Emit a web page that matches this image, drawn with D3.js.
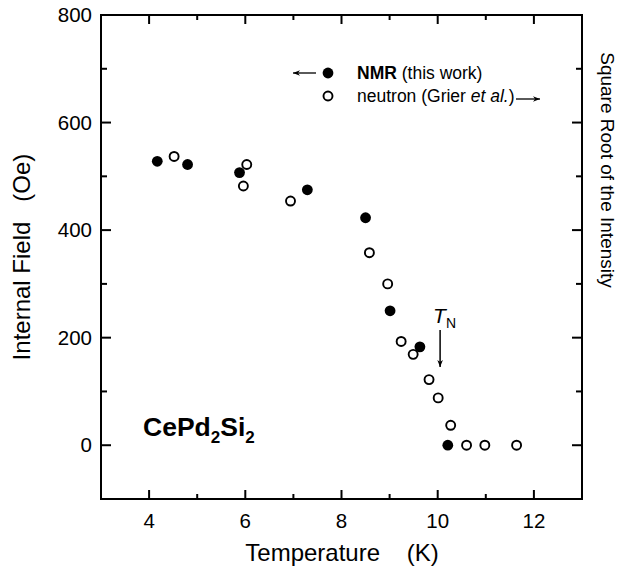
<!DOCTYPE html>
<html>
<head>
    <title>CePd2Si2 internal field vs temperature</title>
    <script src="https://d3js.org/d3.v7.min.js"></script>
    <style>
        body { margin: 0; background: #fff; }
        text { font-family: "Liberation Sans", Arial, sans-serif; fill: #000; }
        .tick-label { font-size: 20.5px; }
        .axis-title { font-size: 24px; white-space: pre; }
        .legend { font-size: 17.5px; }
    </style>
</head>
<body>
    <svg width="633" height="572"></svg>
    <script>
        // NMR (this work), filled circles
        var nmrT = [4.17, 4.80, 5.88, 7.29, 8.50, 9.01, 9.63, 10.21];
        var nmrField = [528, 522, 507, 475, 423, 250, 183, 0];
        // neutron (Grier et al.), open circles
        var neutronT = [4.52, 6.03, 5.96, 6.94, 8.58, 8.96, 9.24, 9.49, 9.82, 10.01, 10.27, 10.60, 10.98, 11.64];
        var neutronVal = [537, 522, 482, 454, 358, 300, 193, 169, 122, 88, 37, 0, 0, 0];

        var xMajor = [4, 6, 8, 10, 12];
        var xMinor = [5, 7, 9, 11];
        var yMajor = [0, 200, 400, 600, 800];
        var yMinor = [100, 300, 500, 700];
        var tN = 10.05;

        var svg = d3.select("svg");
        var pLeft = 101, pRight = 582, pTop = 15, pBottom = 499;

        var x = d3.scaleLinear().domain([3, 13]).range([pLeft, pRight]);
        var y = d3.scaleLinear().domain([-100, 800]).range([pBottom, pTop]);

        // frame
        svg.append("rect")
           .attr("x", pLeft).attr("y", pTop)
           .attr("width", pRight - pLeft).attr("height", pBottom - pTop)
           .attr("fill", "none").attr("stroke", "#000").attr("stroke-width", 2);

        function ticks(vals, len, horiz) {
            vals.forEach(function(v) {
                if (horiz) {
                    svg.append("line").attr("x1", x(v)).attr("x2", x(v))
                       .attr("y1", pBottom).attr("y2", pBottom - len)
                       .attr("stroke", "#000").attr("stroke-width", 2);
                    svg.append("line").attr("x1", x(v)).attr("x2", x(v))
                       .attr("y1", pTop).attr("y2", pTop + len)
                       .attr("stroke", "#000").attr("stroke-width", 2);
                } else {
                    svg.append("line").attr("x1", pLeft).attr("x2", pLeft + len)
                       .attr("y1", y(v)).attr("y2", y(v))
                       .attr("stroke", "#000").attr("stroke-width", 2);
                    svg.append("line").attr("x1", pRight).attr("x2", pRight - len)
                       .attr("y1", y(v)).attr("y2", y(v))
                       .attr("stroke", "#000").attr("stroke-width", 2);
                }
            });
        }
        ticks(xMajor, 9, true);
        ticks(xMinor, 5, true);
        ticks(yMajor, 10, false);
        ticks(yMinor, 6, false);

        svg.selectAll(".xlab").data(xMajor).enter().append("text")
           .attr("class", "tick-label")
           .attr("x", function(d) { return x(d); })
           .attr("y", 528)
           .attr("text-anchor", "middle")
           .text(function(d) { return d; });

        svg.selectAll(".ylab").data(yMajor).enter().append("text")
           .attr("class", "tick-label")
           .attr("x", pLeft - 9)
           .attr("y", function(d) { return y(d) + 7; })
           .attr("text-anchor", "end")
           .text(function(d) { return d; });

        // axis titles
        svg.append("text").attr("class", "axis-title")
           .attr("x", 342).attr("y", 561)
           .attr("text-anchor", "middle")
           .text("Temperature    (K)");

        svg.append("text").attr("class", "axis-title")
           .attr("transform", "translate(30,257) rotate(-90)")
           .attr("text-anchor", "middle")
           .text("Internal Field   (Oe)");

        svg.append("text").attr("class", "axis-title")
           .style("font-size", "19px")
           .attr("transform", "translate(601,170) rotate(90)")
           .attr("text-anchor", "middle")
           .text("Square Root of the Intensity");

        // data
        svg.selectAll(".nmr").data(nmrT).enter().append("circle")
           .attr("cx", function(d) { return x(d); })
           .attr("cy", function(d, i) { return y(nmrField[i]); })
           .attr("r", 5.4)
           .attr("fill", "#000");

        svg.selectAll(".neu").data(neutronT).enter().append("circle")
           .attr("cx", function(d) { return x(d); })
           .attr("cy", function(d, i) { return y(neutronVal[i]); })
           .attr("r", 4.5)
           .attr("fill", "#fff")
           .attr("stroke", "#000")
           .attr("stroke-width", 1.9);

        // legend
        var lx = 328, ly1 = 73, ly2 = 96;
        svg.append("circle").attr("cx", lx).attr("cy", ly1).attr("r", 5.4).attr("fill", "#000");
        svg.append("circle").attr("cx", lx).attr("cy", ly2).attr("r", 4.5)
           .attr("fill", "#fff").attr("stroke", "#000").attr("stroke-width", 1.9);

        var t1 = svg.append("text").attr("class", "legend").attr("x", 357).attr("y", ly1 + 6);
        t1.append("tspan").attr("font-weight", "bold").text("NMR");
        t1.append("tspan").text(" (this work)");

        var t2 = svg.append("text").attr("class", "legend").attr("x", 357).attr("y", ly2 + 6);
        t2.append("tspan").text("neutron (Grier ");
        t2.append("tspan").attr("font-style", "italic").text("et al.");
        t2.append("tspan").text(")");

        var defs = svg.append("defs");
        defs.append("marker").attr("id", "ah")
            .attr("viewBox", "0 0 10 10").attr("refX", 10).attr("refY", 5)
            .attr("markerWidth", 7).attr("markerHeight", 7)
            .attr("markerUnits", "userSpaceOnUse")
            .attr("orient", "auto")
            .append("path").attr("d", "M0,1 L10,5 L0,9 L3,5 Z").attr("fill", "#000");

        svg.append("line").attr("x1", 316).attr("y1", ly1).attr("x2", 293).attr("y2", ly1)
           .attr("stroke", "#000").attr("stroke-width", 1.3).attr("marker-end", "url(#ah)");
        svg.append("line").attr("x1", 516).attr("y1", ly2 + 3).attr("x2", 540).attr("y2", ly2 + 3)
           .attr("stroke", "#000").attr("stroke-width", 1.3).attr("marker-end", "url(#ah)");

        // T_N marker
        var tnx = x(tN);
        var tl = svg.append("text").attr("x", tnx - 7).attr("y", 323).style("font-size", "21px");
        tl.append("tspan").attr("font-style", "italic").text("T");
        tl.append("tspan").attr("dy", 5).style("font-size", "14px").text("N");

        svg.append("line").attr("x1", tnx).attr("y1", 330).attr("x2", tnx).attr("y2", 367)
           .attr("stroke", "#000").attr("stroke-width", 1.5).attr("marker-end", "url(#ah)");

        // compound label
        var cl = svg.append("text").attr("x", 143).attr("y", 436)
                    .attr("font-weight", "bold").style("font-size", "26.5px");
        cl.append("tspan").text("CePd");
        cl.append("tspan").attr("dy", 7).style("font-size", "17px").text("2");
        cl.append("tspan").attr("dy", -7).text("Si");
        cl.append("tspan").attr("dy", 7).style("font-size", "17px").text("2");
    </script>
</body>
</html>
